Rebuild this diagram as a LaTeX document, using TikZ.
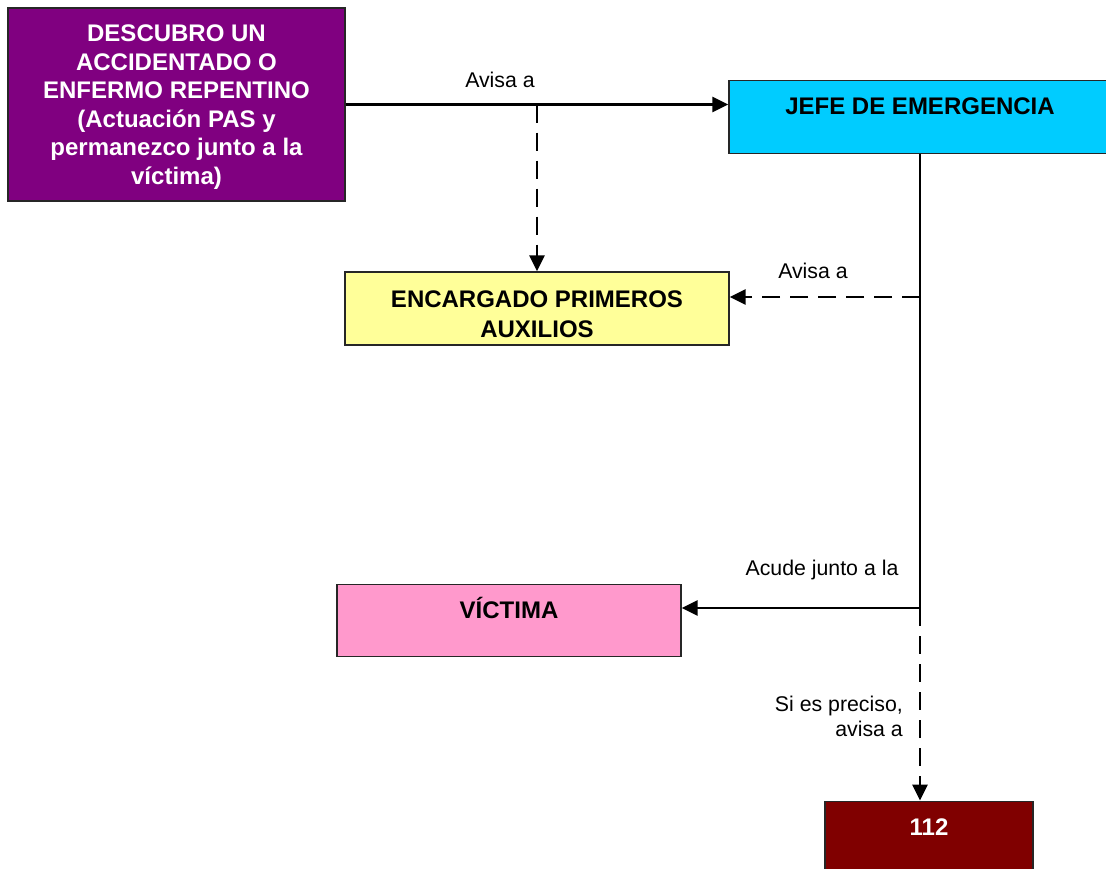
\documentclass[tikz,border=0pt]{standalone}
\usepackage{fontspec}
\setmainfont{Liberation Sans}
\usetikzlibrary{arrows.meta}
\definecolor{purp}{HTML}{800080}
\definecolor{cyanbox}{HTML}{00CCFF}
\definecolor{yelbox}{HTML}{FFFF99}
\definecolor{pinkbox}{HTML}{FF99CC}
\definecolor{redbox}{HTML}{800000}
\tikzset{
  box/.style={draw=black!85, line width=1.3pt, rectangle, inner sep=0pt, align=center,
    font=\fontsize{24}{28.5}\selectfont\bfseries},
  onebox/.style={box, text height=34pt, text depth=38.5pt},
  lab/.style={font=\fontsize{21.3}{25}\selectfont, inner sep=0pt},
  conn/.style={line width=2.8pt, -{Triangle[length=16pt,width=15pt]}},
  dconn/.style={conn, dash pattern=on 18pt off 10pt},
  thin/.style={line width=1.5pt}
}
\begin{document}
\begin{tikzpicture}[x=1pt,y=-1pt]
\useasboundingbox (0,0) rectangle (1106,868);
% boxes
\node[box, fill=purp, text=white, minimum width=337pt, minimum height=193pt] (desc) at (176.5,104.5)
  {\rule{0pt}{22pt}DESCUBRO UN\\ACCIDENTADO O\\ENFERMO REPENTINO\\(Actuación PAS y\\permanezco junto a la\\víctima)};
\node[onebox, fill=cyanbox, minimum width=382pt] (jefe) at (920,117) {JEFE DE EMERGENCIA};
\node[box, fill=yelbox, minimum width=384pt, minimum height=73pt, font=\fontsize{24}{30}\selectfont\bfseries] (enc) at (537,308.5)
  {\rule{0pt}{29pt}ENCARGADO PRIMEROS\\AUXILIOS};
\node[onebox, fill=pinkbox, minimum width=344pt] (vic) at (509,620.5) {VÍCTIMA};
\node[onebox, fill=redbox, text=white, minimum width=208pt] (e112) at (929,837.5) {112};
% junctions
\coordinate (j1) at (920,297);
\coordinate (j2) at (920,608);
% connectors
\draw[conn] (desc.east) -- (desc.east -| jefe.west);
\draw[dconn] (enc.north |- desc.east) -- (enc.north);
\draw[thin] (jefe.south -| j1) -- (j2);
\draw[dconn] (j1) -- (j1 -| enc.east);
\draw[conn] (j2) -- (j2 -| vic.east);
\draw[dconn] (j2) -- (j2 |- e112.north);
% labels
\node[lab, anchor=base] (l1) at (500,87) {Avisa a};
\node[lab, anchor=base] (l2) at (813,278) {Avisa a};
\node[lab, anchor=base] (l3) at (822,575) {Acude junto a la};
\node[lab, anchor=base east, align=right] (l4) at (903,736) {Si es preciso,\\avisa a};
\end{tikzpicture}
\end{document}
